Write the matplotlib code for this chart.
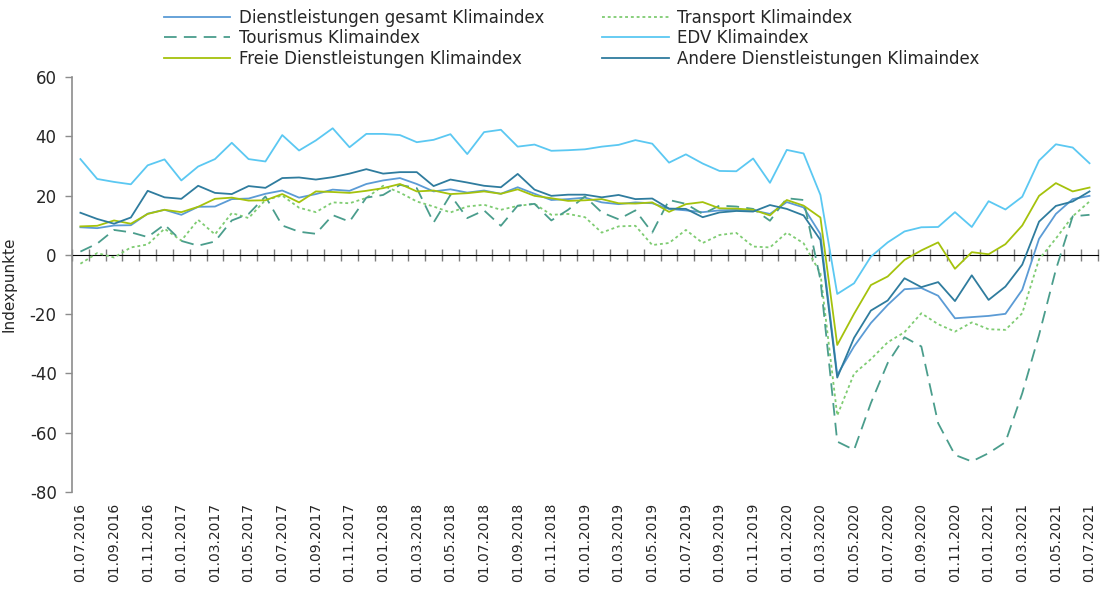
import matplotlib
matplotlib.use("Agg")
import matplotlib.pyplot as plt
import pandas as pd
import numpy as np

# monthly dates 01.07.2016 .. 01.07.2021
dates = pd.date_range("2016-07-01", "2021-07-01", freq="MS")
date_labels = [d.strftime("%d.%m.%Y") for d in dates]

gesamt = [9.3, 9.0, 9.9, 10.0, 13.9, 15.2, 13.5, 16.2, 16.3, 18.8, 19.0, 20.6, 21.7, 19.3, 20.5, 22.0,
          21.6, 23.9, 25.1, 25.9, 23.9, 21.4, 22.1, 21.0, 21.7, 20.6, 22.8, 20.6, 18.5, 18.8, 19.3, 17.7,
          17.1, 17.7, 17.4, 15.5, 15.0, 14.4, 15.0, 15.2, 15.0, 13.8, 17.8, 16.0, 7.0, -40.5, -30.9, -23.0,
          -16.9, -11.6, -11.2, -13.8, -21.4, -21.0, -20.6, -19.9, -11.8, 5.4, 13.8, 18.8, 19.9]
transport = [-3.0, 0.6, -0.9, 2.5, 3.5, 8.8, 4.8, 11.8, 6.9, 14.1, 12.4, 18.5, 20.0, 15.9, 14.4, 17.7,
             17.4, 19.2, 23.3, 21.0, 18.0, 16.3, 14.3, 16.3, 16.9, 15.2, 16.5, 17.2, 13.5, 13.8, 12.7, 7.5,
             9.6, 9.8, 3.3, 4.0, 8.4, 4.0, 6.7, 7.4, 2.8, 2.5, 7.5, 3.9, -6.2, -54.2, -40.1, -35.2,
             -29.5, -26.1, -19.7, -23.4, -25.9, -22.8, -25.1, -25.3, -19.7, -1.5, 5.5, 13.0, 18.0]
tourismus = [1.1, 3.8, 8.4, 7.6, 6.0, 10.2, 4.7, 3.1, 4.5, 11.6, 13.8, 19.7, 9.9, 7.8, 7.1, 13.4,
             11.2, 19.3, 20.2, 23.6, 22.5, 10.9, 20.2, 12.4, 15.0, 9.8, 16.6, 17.2, 11.6, 15.2, 19.7, 14.3,
             12.0, 15.0, 7.5, 18.5, 17.2, 13.8, 16.6, 16.3, 15.5, 11.5, 19.1, 18.5, -8.4, -63.0, -65.8, -50.0,
             -36.5, -27.8, -30.9, -56.8, -67.5, -69.7, -66.9, -63.2, -46.7, -27.0, -5.0, 13.0, 13.5]
edv = [32.3, 25.6, 24.6, 23.8, 30.2, 32.2, 25.1, 29.8, 32.3, 37.8, 32.3, 31.5, 40.4, 35.2, 38.6, 42.7,
       36.3, 40.8, 40.8, 40.4, 38.0, 38.8, 40.7, 34.0, 41.4, 42.2, 36.5, 37.2, 35.1, 35.3, 35.6, 36.5,
       37.1, 38.7, 37.5, 31.1, 33.9, 30.8, 28.3, 28.2, 32.5, 24.3, 35.4, 34.2, 20.2, -13.2, -9.6, -0.6,
       4.2, 7.9, 9.3, 9.4, 14.4, 9.4, 18.1, 15.3, 19.6, 31.8, 37.3, 36.2, 30.9]
freie = [9.6, 9.8, 11.6, 10.5, 13.8, 15.2, 14.4, 16.2, 18.9, 19.3, 18.3, 18.4, 20.5, 17.7, 21.4, 21.2,
         20.9, 21.6, 22.5, 23.9, 21.4, 21.7, 20.5, 20.8, 21.4, 20.6, 22.1, 19.9, 19.1, 18.2, 18.4, 18.8,
         17.4, 17.3, 17.7, 14.5, 17.1, 17.8, 15.7, 15.6, 15.2, 13.3, 18.5, 16.6, 12.6, -30.4, -19.9, -10.2,
         -7.3, -1.7, 1.5, 4.2, -4.7, 0.9, 0.2, 3.6, 9.9, 19.9, 24.2, 21.4, 22.7]
andere = [14.2, 12.1, 10.5, 12.6, 21.6, 19.4, 18.9, 23.3, 20.9, 20.5, 23.2, 22.6, 25.9, 26.1, 25.4, 26.2,
          27.4, 28.9, 27.4, 27.9, 27.9, 23.2, 25.4, 24.4, 23.3, 22.8, 27.3, 22.0, 19.9, 20.3, 20.3, 19.4,
          20.2, 18.8, 19.0, 15.6, 15.5, 12.7, 14.3, 14.8, 14.6, 16.8, 15.5, 13.3, 5.0, -41.4, -28.0, -18.8,
          -15.4, -7.9, -10.9, -9.2, -15.6, -6.9, -15.2, -10.7, -3.3, 11.2, 16.5, 18.0, 21.4]

plt.rcParams['font.family'] = ['DejaVu Sans']
plt.rcParams['axes.unicode_minus'] = False

fig = plt.figure(figsize=(11.01, 5.89), dpi=100)
ax = fig.add_axes([0.0654, 0.1647, 0.9318, 0.7046])

x = np.arange(len(dates))
lw = 1.3
l_ges, = ax.plot(x, gesamt, color='#5b9bd5', lw=lw, label='Dienstleistungen gesamt Klimaindex')
l_tra, = ax.plot(x, transport, color='#7fcc72', lw=lw, linestyle=(0, (1.6, 1.6)), label='Transport Klimaindex')
l_tou, = ax.plot(x, tourismus, color='#4a9d8c', lw=lw, linestyle=(0, (7, 4)), label='Tourismus Klimaindex')
l_edv, = ax.plot(x, edv, color='#5bc8f2', lw=lw, label='EDV Klimaindex')
l_fre, = ax.plot(x, freie, color='#a5c20c', lw=lw, label='Freie Dienstleistungen Klimaindex')
l_and, = ax.plot(x, andere, color='#2f7c9e', lw=lw, label='Andere Dienstleistungen Klimaindex')

ax.set_xlim(-0.5, len(dates) - 0.5)
ax.set_ylim(-80, 60)
ax.set_yticks(range(-80, 61, 20))
ax.set_ylabel('Indexpunkte', fontsize=11, color='#262626')
ax.yaxis.set_label_coords(-0.054, 0.5)

for s in ['top', 'right', 'bottom']:
    ax.spines[s].set_visible(False)
ax.spines['left'].set_color('#8c8c8c')
ax.spines['left'].set_linewidth(1.2)
ax.tick_params(axis='y', length=5, width=1, color='#8c8c8c', labelsize=12, labelcolor='#262626', pad=6)

ax.set_xticks(x[::2])
ax.set_xticklabels(date_labels[::2], rotation=90, fontsize=10, color='#262626')
ax.tick_params(axis='x', length=0, pad=8)

# zero line with category boundary ticks
zero_pos = (0 - (-80)) / 140
sec = ax.secondary_xaxis(zero_pos)
sec.spines['bottom'].set_color('#262626')
sec.spines['bottom'].set_linewidth(1.2)
sec.set_xticks(np.arange(-0.5, len(dates), 1.0))
sec.set_xticklabels([])
sec.tick_params(axis='x', direction='inout', length=9, width=1, color='#7f7f7f')

handles = [l_ges, l_tou, l_fre, l_tra, l_edv, l_and]
fig.legend(handles=handles, labels=[h.get_label() for h in handles], ncol=2,
           loc='upper left', bbox_to_anchor=(0.135, 1.011), frameon=False, fontsize=12,
           handlelength=4.0, handletextpad=0.5, columnspacing=3.5, labelspacing=0.15,
           labelcolor='#262626')

fig.savefig('out.png', dpi=100)
